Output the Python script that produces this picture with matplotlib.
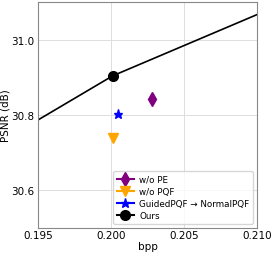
import matplotlib
matplotlib.use("Agg")
import matplotlib.pyplot as plt

line_x = [0.195, 0.2001, 0.210]
line_y = [30.787, 30.904, 31.067]

ours_x, ours_y = [0.2001], [30.904]
wope_x, wope_y = [0.2028], [30.843]
wopqf_x, wopqf_y = [0.2001], [30.739]
guided_x, guided_y = [0.2005], [30.803]

fig = plt.figure(figsize=(2.74, 2.55), dpi=100)
ax = fig.add_axes([0.139, 0.102, 0.8, 0.886])

ax.plot(line_x, line_y, color="black", lw=1.2, zorder=2)
ax.plot(wope_x, wope_y, marker="d", color="purple", ms=7, lw=1.5, label="w/o PE", zorder=3)
ax.plot(wopqf_x, wopqf_y, marker="v", color="orange", ms=7, lw=1.5, label="w/o PQF", zorder=3)
ax.plot(guided_x, guided_y, marker="*", color="blue", ms=6.5, lw=1.5, label="GuidedPQF → NormalPQF", zorder=3)
ax.plot(ours_x, ours_y, marker="o", color="black", ms=7, lw=1.5, label="Ours", zorder=4)

ax.set_xlim(0.195, 0.210)
ax.set_ylim(30.5, 31.1)
ax.set_xticks([0.195, 0.200, 0.205, 0.210])
ax.set_xticklabels(["0.195", "0.200", "0.205", "0.210"])
ax.set_yticks([30.6, 30.8, 31.0])
ax.set_yticklabels(["30.6", "30.8", "31.0"])
ax.tick_params(axis="x", labelsize=7.5, length=0, pad=1.5)
ax.tick_params(axis="y", labelsize=7.5, length=0, pad=2.5)
ax.grid(True, color="#dddddd", lw=0.7)
ax.set_axisbelow(True)
for s in ax.spines.values():
    s.set_color("#888888")
ax.set_xlabel("bpp", fontsize=7.5, labelpad=0.5)
ax.set_ylabel("PSNR (dB)", fontsize=7.5, labelpad=1)
ax.legend(loc="lower right", fontsize=6.3, handlelength=2, borderpad=0.4,
          labelspacing=0.35, handletextpad=0.6, framealpha=0.8)

fig.savefig("out.png", dpi=100)
